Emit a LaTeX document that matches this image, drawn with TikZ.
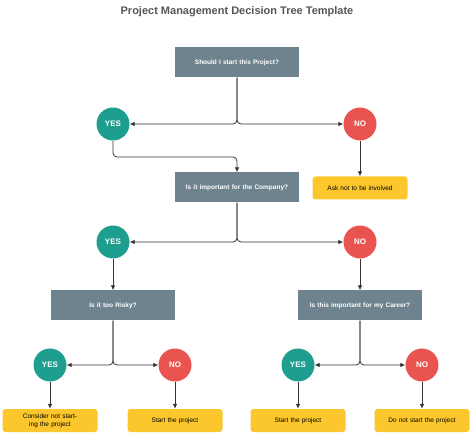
\documentclass[tikz,border=0pt]{standalone}
\usepackage{fontspec}
\setmainfont{Liberation Sans}
\usetikzlibrary{arrows.meta}
\definecolor{slate}{HTML}{6E838E}
\definecolor{teal}{HTML}{1E9E8E}
\definecolor{redc}{HTML}{EA5450}
\definecolor{yel}{HTML}{FCC72C}
\definecolor{ttl}{HTML}{555555}
\begin{document}
\begin{tikzpicture}[x=1pt,y=-1pt,
 q/.style={fill=slate,draw=none,minimum width=124pt,minimum height=30pt,text width=110pt,align=center,text=white,font=\bfseries\fontsize{6.5}{8}\selectfont},
 yes/.style={circle,fill=teal,minimum size=33pt,inner sep=0pt,text=white,font=\bfseries\fontsize{8}{9}\selectfont},
 no/.style={circle,fill=redc,minimum size=33pt,inner sep=0pt,text=white,font=\bfseries\fontsize{8}{9}\selectfont},
 leaf/.style={fill=yel,rounded corners=3pt,minimum width=95pt,minimum height=23pt,text width=88pt,align=center,font=\fontsize{6.5}{8}\selectfont},
 con/.style={draw=black!80,line width=0.8pt,rounded corners=4pt,-{Latex[length=5pt,width=4.5pt]}}]
\useasboundingbox (0,0) rectangle (474,438);
\node[font=\bfseries\fontsize{11}{13}\selectfont,text=ttl] (title) at (237,12) {Project Management Decision Tree Template};
\node[q] (q1) at (237,62.5) {Should I start this Project?};
\node[yes] (y1) at (113,124) {YES};
\node[no] (n1) at (360,124) {NO};
\node[leaf] (l0) at (360,188) {Ask not to be involved};
\node[q] (q2) at (237,187.5) {Is it important for the Company?};
\node[yes] (y2) at (113,242) {YES};
\node[no] (n2) at (360,242) {NO};
\node[q] (q3) at (113,305.5) {Is it too Risky?};
\node[q] (q4) at (360,305.5) {Is this important for my Career?};
\node[yes] (y3) at (50,365) {YES};
\node[no] (n3) at (175,365) {NO};
\node[yes] (y4) at (298,365) {YES};
\node[no] (n4) at (422,365) {NO};
\node[leaf] (l1) at (50,420.5) {Consider not starting the project};
\node[leaf] (l2) at (175,420.5) {Start the project};
\node[leaf] (l3) at (298,420.5) {Start the project};
\node[leaf] (l4) at (422,420.5) {Do not start the project};
\draw[con] (q1.south) |- (y1.east);
\draw[con] (q1.south) |- (n1.west);
\draw[con] (n1.south) -- (l0.north);
\draw[con] (y1.south) |- (175,157) -| (q2.north);
\draw[con] (q2.south) |- (y2.east);
\draw[con] (q2.south) |- (n2.west);
\draw[con] (y2.south) -- (q3.north);
\draw[con] (n2.south) -- (q4.north);
\draw[con] (q3.south) |- (y3.east);
\draw[con] (q3.south) |- (n3.west);
\draw[con] (q4.south) |- (y4.east);
\draw[con] (q4.south) |- (n4.west);
\draw[con] (y3.south) -- (l1.north);
\draw[con] (n3.south) -- (l2.north);
\draw[con] (y4.south) -- (l3.north);
\draw[con] (n4.south) -- (l4.north);
\end{tikzpicture}
\end{document}
